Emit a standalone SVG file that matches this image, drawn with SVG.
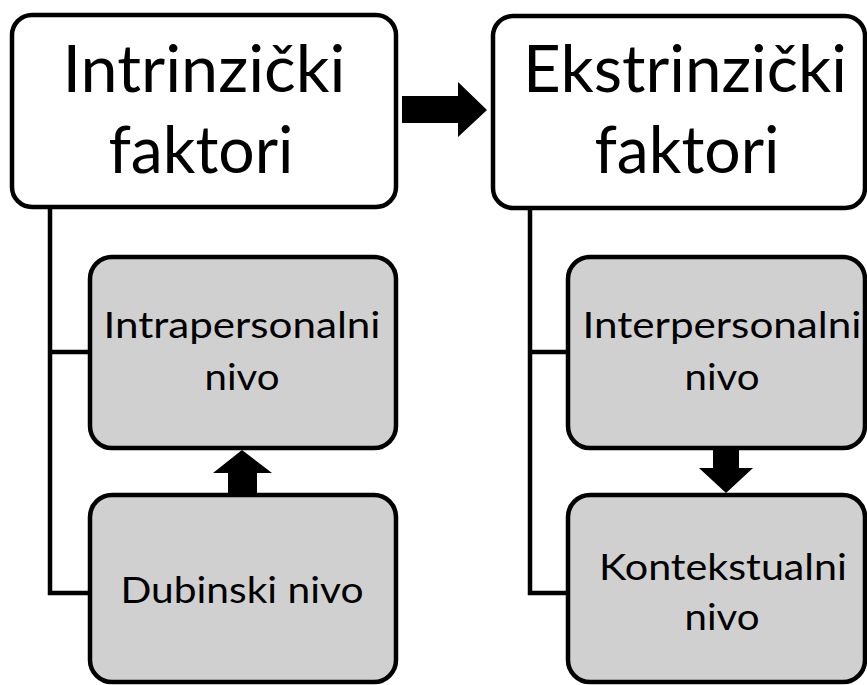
<svg xmlns="http://www.w3.org/2000/svg" width="867" height="685" viewBox="0 0 867 685">
<style>
.box{stroke:#000;stroke-width:4.5}
.main{fill:#fff}
.sub{fill:#d0d0d0}
text{font-family:Lato,"Open Sans",sans-serif;fill:#000;text-anchor:middle}
.big{font-size:65px}
.small{font-size:36px}
.line{fill:none;stroke:#000;stroke-width:4.5;stroke-linejoin:miter}
</style>
<rect width="867" height="685" fill="#fff"/>
<g id="connectors">
<path class="line" d="M50,207 V593 H90 M50,352 H90"/>
<path class="line" d="M530,207 V593 H568 M530,352 H568"/>
<polygon points="402,96 458,96 458,82 487,110 458,137 458,123 402,123" fill="#000"/>
<polygon points="228,495 228,473 213,473 242,450 272,473 257,473 257,495" fill="#000"/>
<polygon points="713,448 739,448 739,468 753,468 726,493 699,468 713,468" fill="#000"/>
</g>
<g id="intrinzicki">
<rect class="box main" x="12" y="15" width="384" height="192" rx="20"/>
<text class="big" x="204" y="92" textLength="283" lengthAdjust="spacingAndGlyphs">Intrinzički</text>
<text class="big" x="201" y="173" textLength="185" lengthAdjust="spacingAndGlyphs">faktori</text>
</g>
<g id="ekstrinzicki">
<rect class="box main" x="493" y="16" width="372" height="192" rx="20"/>
<text class="big" x="685" y="92" textLength="324" lengthAdjust="spacingAndGlyphs">Ekstrinzički</text>
<text class="big" x="687" y="173" textLength="185" lengthAdjust="spacingAndGlyphs">faktori</text>
</g>
<g id="intrapersonalni">
<rect class="box sub" x="90" y="257" width="306" height="191" rx="22"/>
<text class="small" x="242" y="338" textLength="277" lengthAdjust="spacingAndGlyphs">Intrapersonalni</text>
<text class="small" x="242" y="390" textLength="75" lengthAdjust="spacingAndGlyphs">nivo</text>
</g>
<g id="dubinski">
<rect class="box sub" x="90" y="495" width="306" height="187" rx="22"/>
<text class="small" x="242" y="603" textLength="243" lengthAdjust="spacingAndGlyphs">Dubinski nivo</text>
</g>
<g id="interpersonalni">
<rect class="box sub" x="568" y="257" width="297" height="191" rx="22"/>
<text class="small" x="722" y="338" textLength="279" lengthAdjust="spacingAndGlyphs">Interpersonalni</text>
<text class="small" x="722" y="390" textLength="75" lengthAdjust="spacingAndGlyphs">nivo</text>
</g>
<g id="kontekstualni">
<rect class="box sub" x="568" y="495" width="297" height="187" rx="22"/>
<text class="small" x="723" y="580" textLength="248" lengthAdjust="spacingAndGlyphs">Kontekstualni</text>
<text class="small" x="722" y="630" textLength="75" lengthAdjust="spacingAndGlyphs">nivo</text>
</g>
</svg>
